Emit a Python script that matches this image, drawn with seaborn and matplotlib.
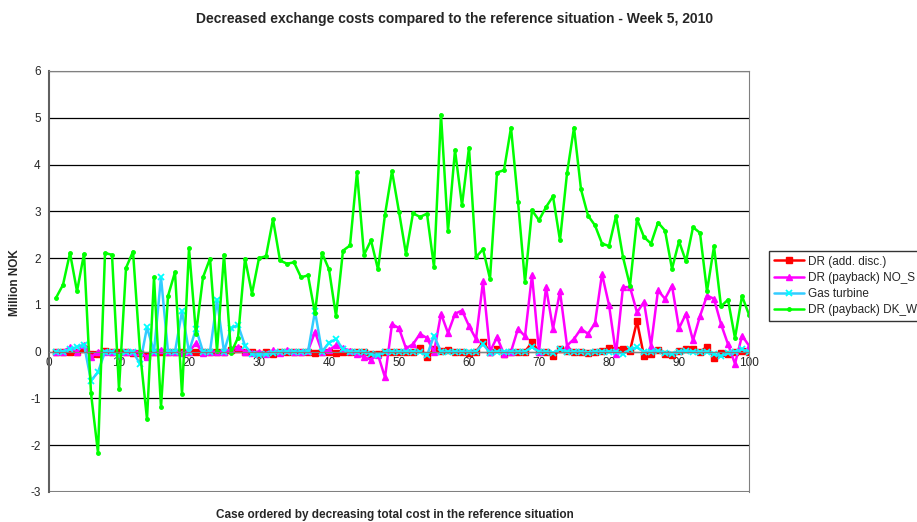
import numpy as np
import pandas as pd
import seaborn as sns
import matplotlib.pyplot as plt

# Casos 1..100
casos = list(range(1, 101))

dr_add_disc = [
    0.0, 0.0, 0.0, 0.0, 0.05, -0.05, -0.05, 0.02, 0.0, 0.0,
    0.0, -0.03, -0.03, -0.1, 0.0, 0.0, 0.0, 0.0, 0.0, 0.0,
    0.0, 0.0, 0.0, 0.0, 0.0, 0.03, 0.05, 0.0, 0.0, -0.05,
    0.0, -0.05, 0.0, 0.0, 0.0, 0.0, 0.0, -0.03, 0.0, 0.0,
    -0.03, 0.0, 0.0, 0.0, 0.0, -0.05, -0.05, 0.0, 0.0, 0.0,
    0.0, 0.0, 0.07, -0.12, 0.05, 0.02, 0.03, 0.0, 0.0, -0.03,
    0.0, 0.2, 0.0, 0.05, -0.05, 0.0, 0.0, 0.0, 0.2, 0.0,
    0.0, -0.1, 0.05, 0.02, 0.0, 0.0, -0.02, 0.0, 0.02, 0.07,
    0.04, 0.05, 0.02, 0.65, -0.1, -0.05, 0.03, -0.05, -0.08, 0.02,
    0.05, 0.05, 0.0, 0.1, -0.13, -0.02, -0.05, 0.0, 0.02, 0.0,
]

dr_payback_nos = [
    0.0, 0.0, 0.1, 0.0, 0.15, -0.12, 0.0, 0.0, 0.0, -0.1,
    0.0, 0.0, 0.0, -0.12, 0.0, 0.03, 0.0, 0.0, -0.02, 0.0,
    0.18, -0.03, 0.0, 0.0, 0.0, 0.05, 0.1, 0.0, -0.02, 0.0,
    -0.04, 0.03, -0.02, 0.03, 0.0, 0.0, 0.02, 0.42, 0.0, 0.03,
    0.14, 0.07, 0.02, -0.05, -0.12, -0.17, -0.07, -0.55, 0.59, 0.5,
    0.07, 0.16, 0.38, 0.29, -0.01, 0.81, 0.4, 0.81, 0.88, 0.55,
    0.27, 1.5, 0.0, 0.31, -0.05, 0.0, 0.49, 0.33, 1.64, 0.0,
    1.38, 0.49, 1.29, 0.13, 0.27, 0.49, 0.38, 0.61, 1.66, 1.0,
    -0.05, 1.38, 1.38, 0.84, 1.06, 0.13, 1.31, 1.13, 1.41, 0.5,
    0.81, 0.24, 0.76, 1.2, 1.13, 0.59, 0.16, -0.26, 0.34, 0.13,
]

gas_turbine = [
    0.0, 0.0, 0.05, 0.1, 0.15, -0.62, -0.44, 0.0, 0.0, -0.1,
    0.0, 0.0, -0.26, 0.52, 0.0, 1.59, 0.0, 0.0, 0.86, 0.0,
    0.49, 0.0, 0.0, 1.11, 0.0, 0.5, 0.57, 0.13, -0.05, -0.07,
    -0.05, -0.03, 0.0, 0.0, 0.0, 0.0, 0.0, 0.86, 0.0, 0.19,
    0.27, 0.05, 0.0, 0.0, 0.0, -0.05, -0.08, 0.0, 0.0, 0.0,
    0.0, 0.0, 0.0, -0.08, 0.34, 0.0, 0.0, 0.0, 0.0, 0.0,
    0.0, 0.16, -0.02, 0.0, 0.0, 0.0, 0.0, 0.0, 0.1, 0.0,
    0.0, -0.03, 0.05, 0.0, 0.0, 0.0, -0.02, 0.0, 0.0, 0.0,
    0.0, -0.05, 0.05, 0.09, 0.0, 0.0, 0.02, -0.03, -0.05, 0.0,
    0.02, 0.0, 0.0, 0.0, -0.05, -0.1, -0.03, 0.0, 0.05, 0.0,
]

dr_payback_dkw = [
    1.15, 1.43, 2.11, 1.29, 2.09, -0.89, -2.16, 2.11, 2.07, -0.80,
    1.79, 2.14, 0.00, -1.44, 1.59, -1.19, 1.19, 1.70, -0.91, 2.21,
    0.38, 1.59, 1.99, 0.02, 2.07, -0.03, 0.30, 1.99, 1.24, 2.00,
    2.04, 2.83, 1.95, 1.88, 1.91, 1.59, 1.63, 0.82, 2.11, 1.76,
    0.76, 2.16, 2.27, 3.84, 2.07, 2.38, 1.76, 2.93, 3.86, 2.99,
    2.09, 2.96, 2.88, 2.95, 1.81, 5.07, 2.58, 4.31, 3.13, 4.36,
    2.02, 2.19, 1.56, 3.83, 3.88, 4.79, 3.21, 1.49, 3.02, 2.81,
    3.09, 3.32, 2.38, 3.81, 4.79, 3.47, 2.91, 2.70, 2.31, 2.26,
    2.90, 2.02, 1.41, 2.83, 2.45, 2.31, 2.76, 2.59, 1.77, 2.36,
    1.93, 2.66, 2.54, 1.29, 2.25, 0.97, 1.11, 0.29, 1.19, 0.79,
]

series = [
    ("DR (add. disc.)", dr_add_disc, "#FF0000", "#FF0000", "s", 4.5, 1.0),
    ("DR (payback) NO_S", dr_payback_nos, "#FF00FF", "#FF00FF", "^", 5.0, 1.0),
    ("Gas turbine", gas_turbine, "#33CCFF", "#00FFFF", "x", 5, 1.3),
    ("DR (payback) DK_W", dr_payback_dkw, "#00FF00", "#00FF00", "o", 2.5, 1.0),
]

sns.set_style("white")
plt.rcParams['font.family'] = ['Liberation Sans', 'DejaVu Sans']
plt.rcParams['axes.unicode_minus'] = False

fig = plt.figure(figsize=(9.17, 5.22), dpi=100)
ax = fig.add_axes([49/917, 1-492/522, 700/917, 421/522])

for nombre, valores, color_linea, color_marca, marca, tam, mew in series:
    sns.lineplot(x=casos, y=valores, ax=ax, color=color_linea, lw=1.8,
                 marker=marca, markersize=tam, markerfacecolor=color_marca,
                 markeredgecolor=color_marca, markeredgewidth=mew, label=nombre)

ax.set_xlim(0, 100)
ax.set_ylim(-3, 6)
ax.set_yticks(range(-3, 7))
ax.set_xticks(range(0, 101, 10))
ax.yaxis.grid(True, color="black", lw=0.9)
ax.set_axisbelow(True)

ax.spines['bottom'].set_position(('data', 0))
ax.spines['bottom'].set_color("#808080")
ax.spines['left'].set_color("#606060")
ax.spines['left'].set_linewidth(1.5)
ax.spines['top'].set_color("#808080")
ax.spines['right'].set_color("#808080")
ax.axhline(-3, color="#808080", lw=1.5)

ax.tick_params(axis='x', direction='inout', length=6, color="#808080", labelsize=8.5, pad=1)
ax.tick_params(axis='y', direction='out', length=4, color="#606060", labelsize=8.5, pad=2)
ax.set_xlabel("")
ax.set_ylabel("")

fig.text(0.496, 1-19/522, "Decreased exchange costs compared to the reference situation - Week 5, 2010",
         ha="center", va="center", fontsize=10, fontweight="bold")
fig.text(395/917, 1-515/522, "Case ordered by decreasing total cost in the reference situation",
         ha="center", va="center", fontsize=8.5, fontweight="bold")
fig.text(15/917, 1-283/522, "Million NOK", rotation=90, ha="center", va="center",
         fontsize=8.5, fontweight="bold")

leg = ax.legend(loc="upper left", bbox_to_anchor=(763/917, 1-245/522),
                bbox_transform=fig.transFigure, fontsize=8.5, frameon=True,
                fancybox=False, edgecolor="black", handlelength=2.6,
                borderpad=0.4, labelspacing=0.35, handletextpad=0.3)
leg.get_frame().set_linewidth(1.0)

fig.savefig("out.png", dpi=100)
